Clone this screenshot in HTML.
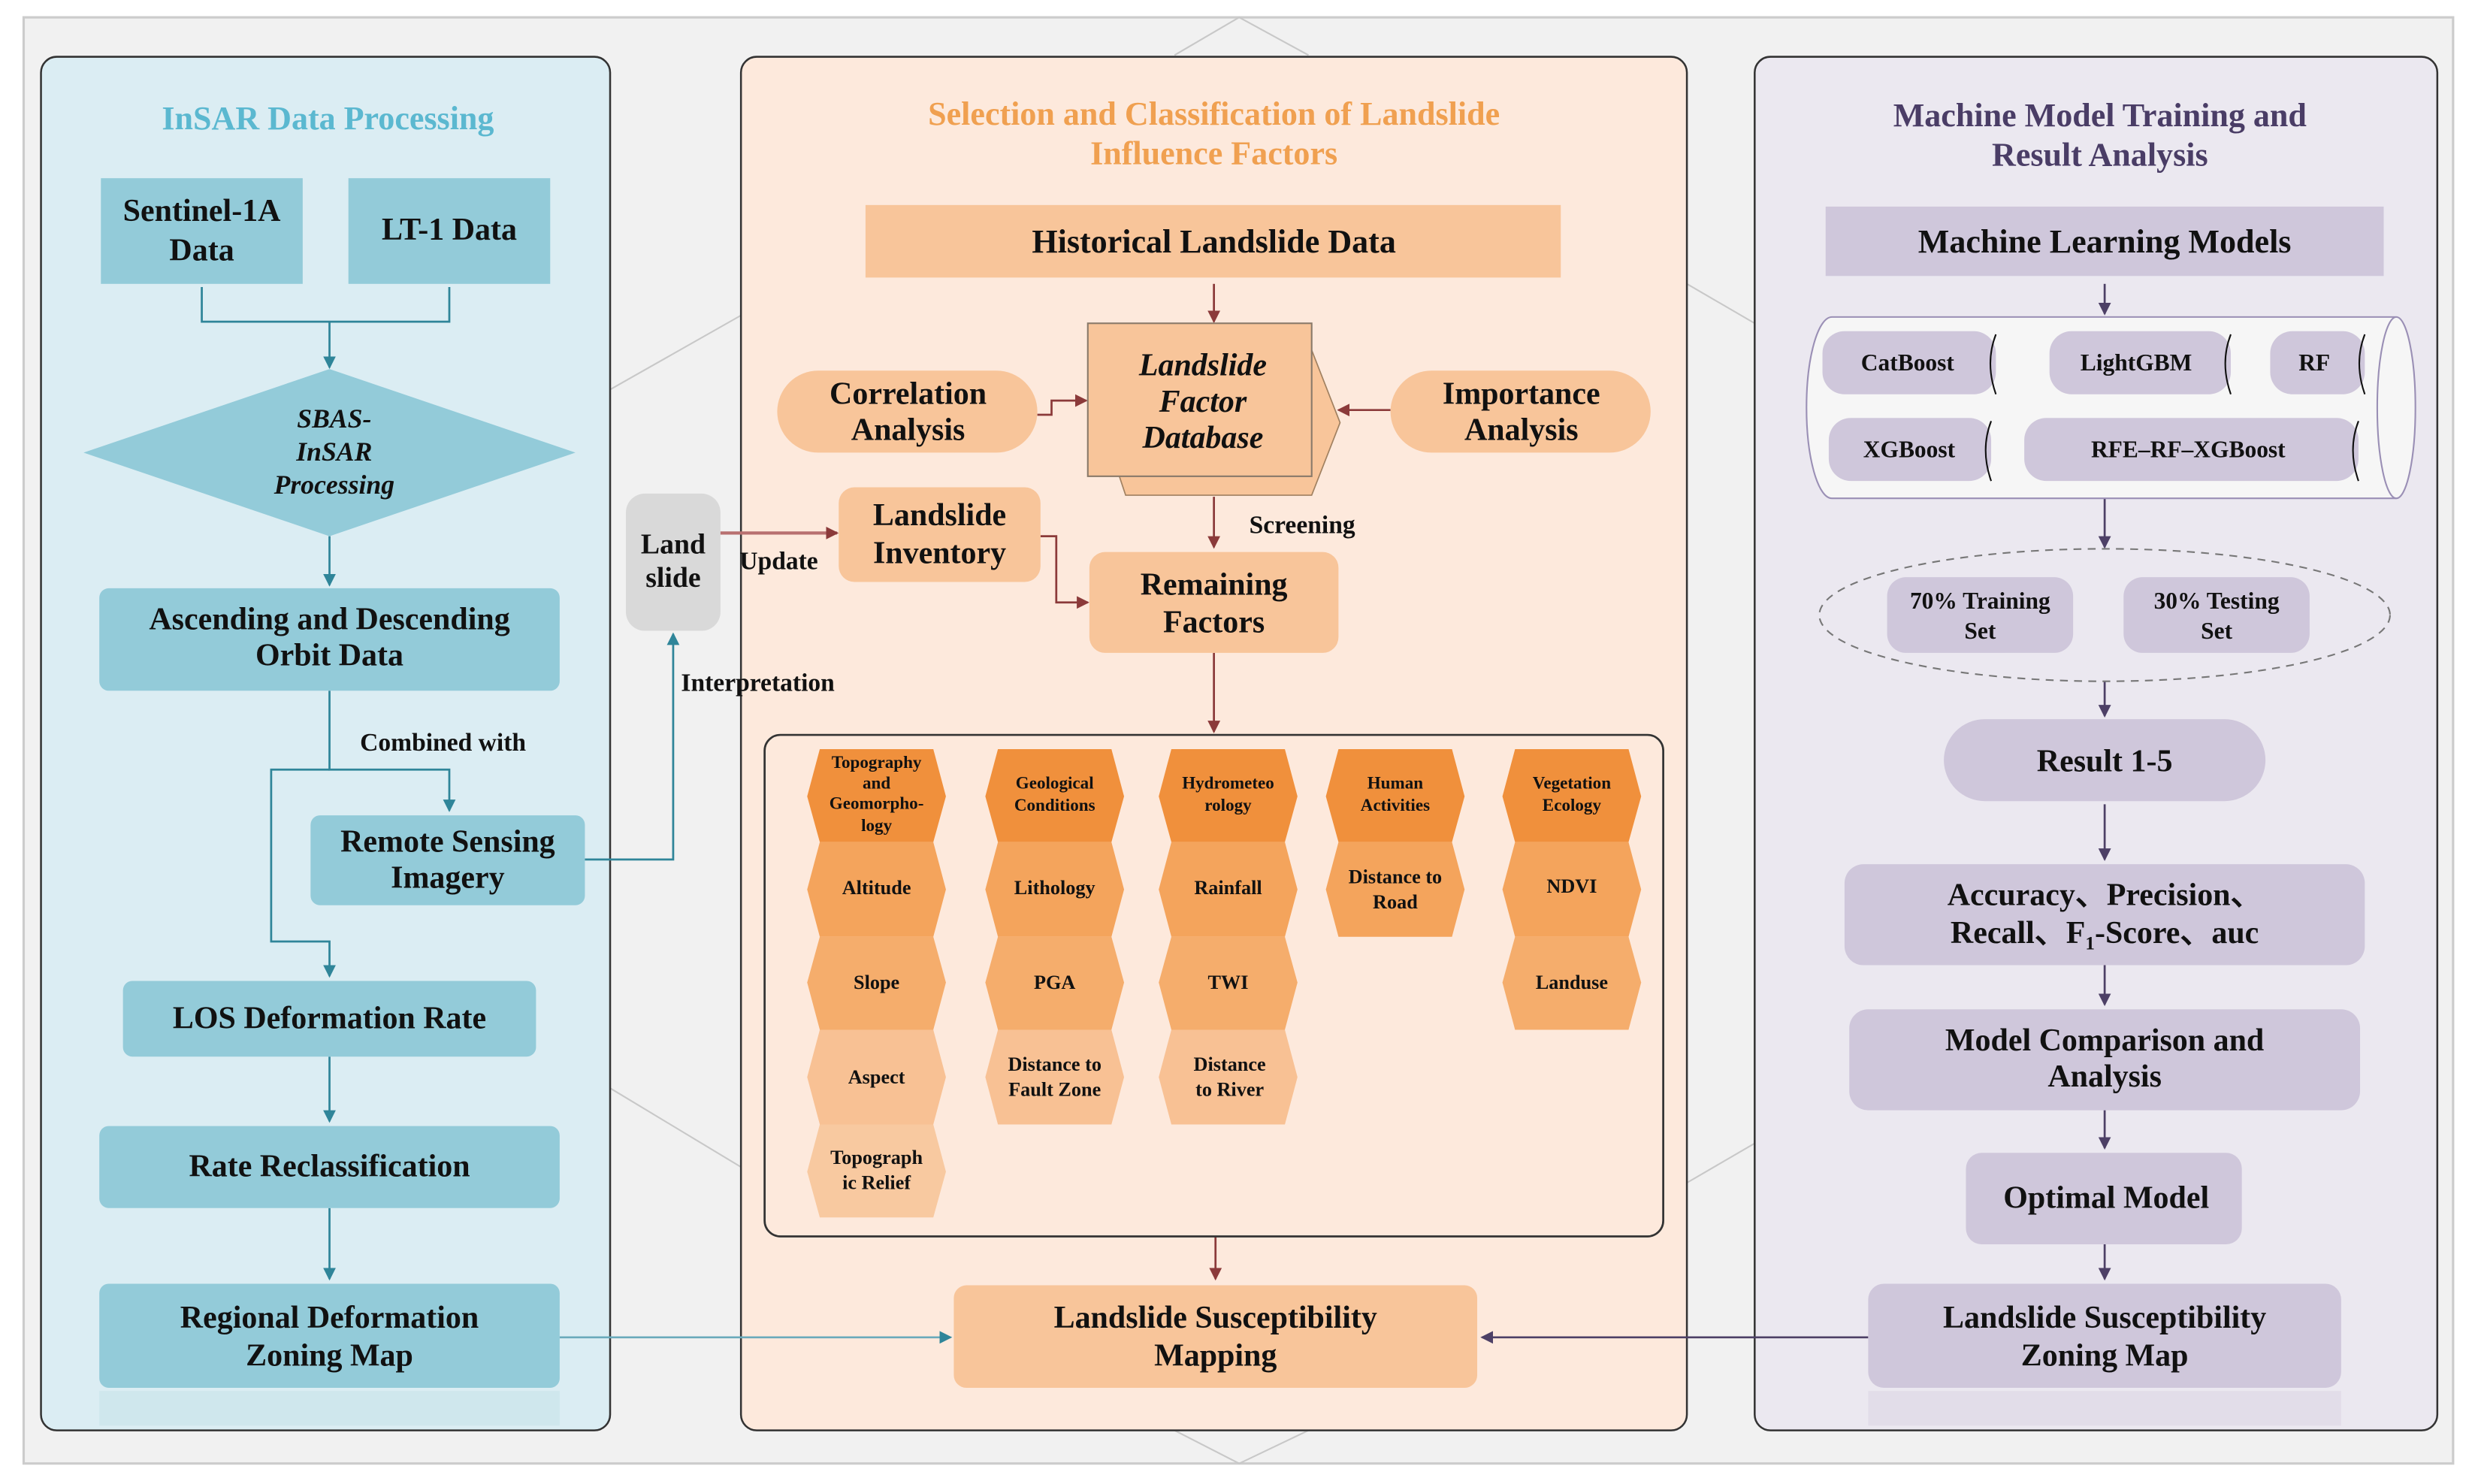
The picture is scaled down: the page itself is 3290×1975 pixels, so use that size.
<!DOCTYPE html>
<html><head><meta charset="utf-8"><style>
html,body{margin:0;padding:0;background:#fff;}
svg{display:block;}
text{font-family:"Liberation Serif",serif;font-weight:bold;fill:#111;text-anchor:middle;}
</style></head><body>
<svg width="3290" height="1975" viewBox="0 0 1568 941" preserveAspectRatio="none" xmlns="http://www.w3.org/2000/svg">
<defs>
<marker id="ab" markerWidth="8" markerHeight="8" refX="7" refY="4" orient="auto" markerUnits="userSpaceOnUse"><path d="M0,0 L8,4 L0,8 z" fill="#2f8599"/></marker>
<marker id="ar" markerWidth="8" markerHeight="8" refX="7" refY="4" orient="auto" markerUnits="userSpaceOnUse"><path d="M0,0 L8,4 L0,8 z" fill="#8b3a3a"/></marker>
<marker id="ap" markerWidth="8" markerHeight="8" refX="7" refY="4" orient="auto" markerUnits="userSpaceOnUse"><path d="M0,0 L8,4 L0,8 z" fill="#4d4066"/></marker>
</defs>
<rect x="0" y="0" width="1568" height="941" fill="#fff"/>
<rect x="15" y="11" width="1541" height="917" fill="#f1f1f1" stroke="#ccc" stroke-width="1.5"/>
<g stroke="#c8c8c8" stroke-width="1" fill="none">
<path d="M745,35 L786,11 L830,35"/><path d="M745,907 L786,928 L830,907"/>
<path d="M387,247 L470,200"/><path d="M387,690 L470,740"/>
<path d="M1070,180 L1113,205"/><path d="M1070,750 L1113,725"/>
</g>

<!-- LEFT PANEL -->
<rect x="26" y="36" width="361" height="871" rx="10" fill="#dbedf3" stroke="#333" stroke-width="1.2"/>
<text x="208" y="82" font-size="21" style="fill:#5bb8d0">InSAR Data Processing</text>
<rect x="64" y="113" width="128" height="67" fill="#93cbd9"/>
<text x="128" y="140" font-size="20">Sentinel-1A</text><text x="128" y="165" font-size="20">Data</text>
<rect x="221" y="113" width="128" height="67" fill="#93cbd9"/>
<text x="285" y="152" font-size="20">LT-1 Data</text>
<g stroke="#2f8599" stroke-width="1.3" fill="none">
<path d="M128,182 V204 H285 V182"/>
<path d="M209,204 V233" marker-end="url(#ab)"/>
<path d="M209,340 V371" marker-end="url(#ab)"/>
<path d="M209,438 V488 H285 V514" marker-end="url(#ab)"/>
<path d="M209,488 H172 V597 H209 V619" marker-end="url(#ab)"/>
<path d="M209,670 V711" marker-end="url(#ab)"/>
<path d="M209,766 V811" marker-end="url(#ab)"/>
<path d="M371,545 H427 V402" marker-end="url(#ab)"/>
</g>
<polygon points="53,287 209,234 365,287 209,340" fill="#93cbd9"/>
<text x="212" y="271" font-size="17" font-style="italic">SBAS-</text>
<text x="212" y="292" font-size="17" font-style="italic">InSAR</text>
<text x="212" y="313" font-size="17" font-style="italic">Processing</text>
<rect x="63" y="373" width="292" height="65" rx="6" fill="#93cbd9"/>
<text x="209" y="399" font-size="20">Ascending and Descending</text><text x="209" y="422" font-size="20">Orbit  Data</text>
<text x="281" y="476" font-size="16">Combined with</text>
<rect x="197" y="517" width="174" height="57" rx="6" fill="#93cbd9"/>
<text x="284" y="540" font-size="20">Remote Sensing</text><text x="284" y="563" font-size="20">Imagery</text>
<rect x="78" y="622" width="262" height="48" rx="6" fill="#93cbd9"/>
<text x="209" y="652" font-size="20">LOS  Deformation Rate</text>
<rect x="63" y="714" width="292" height="52" rx="6" fill="#93cbd9"/>
<text x="209" y="746" font-size="20">Rate Reclassification</text>
<rect x="63" y="814" width="292" height="66" rx="6" fill="#93cbd9"/>
<rect x="63" y="882" width="292" height="22" fill="#c6e2ea" opacity="0.6"/>
<text x="209" y="842" font-size="20">Regional Deformation</text><text x="209" y="866" font-size="20">Zoning Map</text>

<!-- Landslide -->
<rect x="397" y="313" width="60" height="87" rx="12" fill="#d9d9d9"/>
<text x="427" y="351" font-size="18">Land</text><text x="427" y="372" font-size="18">slide</text>

<!-- MIDDLE PANEL -->
<rect x="470" y="36" width="600" height="871" rx="10" fill="#fde9dc" stroke="#333" stroke-width="1.2"/>
<text x="432" y="438" font-size="16" style="text-anchor:start">Interpretation</text>
<path d="M355,848 H603" stroke="#6aaabb" stroke-width="1.3" fill="none" marker-end="url(#ab)"/>
<path d="M457,338 H531" stroke="#b87070" stroke-width="2" fill="none" marker-end="url(#ar)"/>
<text x="494" y="361" font-size="16">Update</text>
<text x="770" y="79" font-size="21" style="fill:#f0a050">Selection and Classification of Landslide</text>
<text x="770" y="104" font-size="21" style="fill:#f0a050">Influence Factors</text>
<rect x="549" y="130" width="441" height="46" fill="#f8c59a"/>
<text x="770" y="160" font-size="21">Historical Landslide Data</text>
<g stroke="#8b3a3a" stroke-width="1.3" fill="none">
<path d="M770,180 V204" marker-end="url(#ar)"/>
<path d="M658,263 H667 V254 H689" marker-end="url(#ar)"/>
<path d="M882,260 H849" marker-end="url(#ar)"/>
<path d="M770,315 V347" marker-end="url(#ar)"/>
<path d="M660,340 H670 V382 H690" marker-end="url(#ar)"/>
<path d="M770,414 V464" marker-end="url(#ar)"/>
<path d="M771,784 V811" marker-end="url(#ar)"/>
</g>
<path d="M710,302 L714,314 L832,314 L850,268 L832,222 L832,302 Z" fill="#f8c59a" stroke="#a08060" stroke-width="0.8"/>
<rect x="690" y="205" width="142" height="97" fill="#f8c59a" stroke="#8a7a6a" stroke-width="1"/>
<text x="763" y="238" font-size="20" font-style="italic">Landslide</text>
<text x="763" y="261" font-size="20" font-style="italic">Factor</text>
<text x="763" y="284" font-size="20" font-style="italic">Database</text>
<rect x="493" y="235" width="165" height="52" rx="26" fill="#f8c59a"/>
<text x="576" y="256" font-size="20">Correlation</text><text x="576" y="279" font-size="20">Analysis</text>
<rect x="882" y="235" width="165" height="52" rx="26" fill="#f8c59a"/>
<text x="965" y="256" font-size="20">Importance</text><text x="965" y="279" font-size="20">Analysis</text>
<text x="826" y="338" font-size="16">Screening</text>
<rect x="532" y="309" width="128" height="60" rx="10" fill="#f8c59a"/>
<text x="596" y="333" font-size="20">Landslide</text><text x="596" y="357" font-size="20">Inventory</text>
<rect x="691" y="350" width="158" height="64" rx="10" fill="#f8c59a"/>
<text x="770" y="377" font-size="20">Remaining</text><text x="770" y="401" font-size="20">Factors</text>

<rect x="485" y="466" width="570" height="318" rx="10" fill="none" stroke="#333" stroke-width="1.3"/>
<g>
<polygon points="520,475 592,475 600,505 592,534 520,534 512,505" fill="#f0903c"/>
<polygon points="520,534 592,534 600,564 592,594 520,594 512,564" fill="#f4a45c"/>
<polygon points="520,594 592,594 600,623 592,653 520,653 512,623" fill="#f5ad6c"/>
<polygon points="520,653 592,653 600,683 592,713 520,713 512,683" fill="#f8c194"/>
<polygon points="520,713 592,713 600,743 592,772 520,772 512,743" fill="#f8c9a0"/>
<polygon points="633,475 705,475 713,505 705,534 633,534 625,505" fill="#f0903c"/>
<polygon points="633,534 705,534 713,564 705,594 633,594 625,564" fill="#f4a45c"/>
<polygon points="633,594 705,594 713,623 705,653 633,653 625,623" fill="#f5ad6c"/>
<polygon points="633,653 705,653 713,683 705,713 633,713 625,683" fill="#f8c194"/>
<polygon points="743,475 815,475 823,505 815,534 743,534 735,505" fill="#f0903c"/>
<polygon points="743,534 815,534 823,564 815,594 743,594 735,564" fill="#f4a45c"/>
<polygon points="743,594 815,594 823,623 815,653 743,653 735,623" fill="#f5ad6c"/>
<polygon points="743,653 815,653 823,683 815,713 743,713 735,683" fill="#f8c194"/>
<polygon points="849,475 921,475 929,505 921,534 849,534 841,505" fill="#f0903c"/>
<polygon points="849,534 921,534 929,564 921,594 849,594 841,564" fill="#f4a45c"/>
<polygon points="961,475 1033,475 1041,505 1033,534 961,534 953,505" fill="#f0903c"/>
<polygon points="961,534 1033,534 1041,564 1033,594 961,594 953,564" fill="#f4a45c"/>
<polygon points="961,594 1033,594 1041,623 1033,653 961,653 953,623" fill="#f5ad6c"/>
</g>
<g font-size="12.5">
<text x="556" y="487" font-size="11">Topography</text><text x="556" y="500" font-size="11">and</text><text x="556" y="513" font-size="11">Geomorpho-</text><text x="556" y="527" font-size="11">logy</text>
<text x="669" y="500" font-size="11">Geological</text><text x="669" y="514" font-size="11">Conditions</text>
<text x="779" y="500" font-size="11">Hydrometeo</text><text x="779" y="514" font-size="11">rology</text>
<text x="885" y="500" font-size="11">Human</text><text x="885" y="514" font-size="11">Activities</text>
<text x="997" y="500" font-size="11">Vegetation</text><text x="997" y="514" font-size="11">Ecology</text>
<text x="556" y="567">Altitude</text>
<text x="669" y="567">Lithology</text>
<text x="779" y="567">Rainfall</text>
<text x="885" y="560">Distance to</text><text x="885" y="576">Road</text>
<text x="997" y="566">NDVI</text>
<text x="556" y="627">Slope</text>
<text x="669" y="627">PGA</text>
<text x="779" y="627">TWI</text>
<text x="997" y="627">Landuse</text>
<text x="556" y="687">Aspect</text>
<text x="669" y="679">Distance to</text><text x="669" y="695">Fault Zone</text>
<text x="780" y="679">Distance</text><text x="780" y="695">to River</text>
<text x="556" y="738">Topograph</text><text x="556" y="754">ic Relief</text>
</g>
<rect x="605" y="815" width="332" height="65" rx="8" fill="#f8c59a"/>
<text x="771" y="842" font-size="20">Landslide Susceptibility</text><text x="771" y="866" font-size="20">Mapping</text>

<!-- RIGHT PANEL -->
<rect x="1113" y="36" width="433" height="871" rx="10" fill="#ebe8f0" stroke="#333" stroke-width="1.2"/>
<text x="1332" y="80" font-size="21" style="fill:#4a3d66">Machine Model Training and</text>
<text x="1332" y="105" font-size="21" style="fill:#4a3d66">Result Analysis</text>
<rect x="1158" y="131" width="354" height="44" fill="#cfc7db"/>
<text x="1335" y="160" font-size="21">Machine Learning Models</text>
<g stroke="#4d4066" stroke-width="1.3" fill="none">
<path d="M1335,180 V199" marker-end="url(#ap)"/>
<path d="M1335,316 V347" marker-end="url(#ap)"/>
<path d="M1335,432 V454" marker-end="url(#ap)"/>
<path d="M1335,510 V545" marker-end="url(#ap)"/>
<path d="M1335,612 V637" marker-end="url(#ap)"/>
<path d="M1335,704 V728" marker-end="url(#ap)"/>
<path d="M1335,789 V811" marker-end="url(#ap)"/>
<path d="M1185,848 H940" marker-end="url(#ap)"/>
</g>
<path d="M1162,201 H1520 A12,57 0 0 1 1520,316 H1162 A16,57 0 0 1 1162,201 Z" fill="#f6f6f6" stroke="#9a8fb5" stroke-width="1"/>
<path d="M1520,201 A12,57 0 0 0 1520,316" fill="none" stroke="#9a8fb5" stroke-width="1"/>
<g fill="#cfc7db">
<rect x="1156" y="210" width="110" height="40" rx="14"/>
<rect x="1300" y="210" width="115" height="40" rx="14"/>
<rect x="1440" y="210" width="60" height="40" rx="14"/>
<rect x="1160" y="265" width="103" height="40" rx="14"/>
<rect x="1284" y="265" width="212" height="40" rx="14"/>
</g>
<g stroke="#111" stroke-width="1" fill="none">
<path d="M1266,212 Q1259,230 1266,250"/><path d="M1415,212 Q1408,230 1415,250"/><path d="M1500,212 Q1493,230 1500,250"/>
<path d="M1263,267 Q1256,285 1263,305"/><path d="M1496,267 Q1489,285 1496,305"/>
</g>
<g font-size="15">
<text x="1210" y="235">CatBoost</text><text x="1355" y="235">LightGBM</text><text x="1468" y="235">RF</text>
<text x="1211" y="290">XGBoost</text><text x="1388" y="290">RFE–RF–XGBoost</text>
</g>
<ellipse cx="1335" cy="390" rx="181" ry="42" fill="none" stroke="#777" stroke-width="1" stroke-dasharray="5,4"/>
<rect x="1197" y="366" width="118" height="48" rx="12" fill="#cfc7db"/>
<rect x="1347" y="366" width="118" height="48" rx="12" fill="#cfc7db"/>
<text x="1256" y="386" font-size="15">70% Training</text><text x="1256" y="405" font-size="15">Set</text>
<text x="1406" y="386" font-size="15">30% Testing</text><text x="1406" y="405" font-size="15">Set</text>
<rect x="1233" y="456" width="204" height="52" rx="26" fill="#cfc7db"/>
<text x="1335" y="489" font-size="20">Result 1-5</text>
<rect x="1170" y="548" width="330" height="64" rx="12" fill="#cfc7db"/>
<text x="1335" y="574" font-size="20">Accuracy、Precision、</text>
<text x="1335" y="598" font-size="20">Recall、F<tspan font-size="12" dy="4">1</tspan><tspan dy="-4">-Score、auc</tspan></text>
<rect x="1173" y="640" width="324" height="64" rx="12" fill="#cfc7db"/>
<text x="1335" y="666" font-size="20">Model Comparison and</text><text x="1335" y="689" font-size="20">Analysis</text>
<rect x="1247" y="731" width="175" height="58" rx="10" fill="#cfc7db"/>
<text x="1336" y="766" font-size="20">Optimal Model</text>
<rect x="1185" y="814" width="300" height="66" rx="10" fill="#cfc7db"/>
<rect x="1185" y="882" width="300" height="22" fill="#dcd6e4" opacity="0.6"/>
<text x="1335" y="842" font-size="20">Landslide Susceptibility</text><text x="1335" y="866" font-size="20">Zoning Map</text>
</svg>
</body></html>
